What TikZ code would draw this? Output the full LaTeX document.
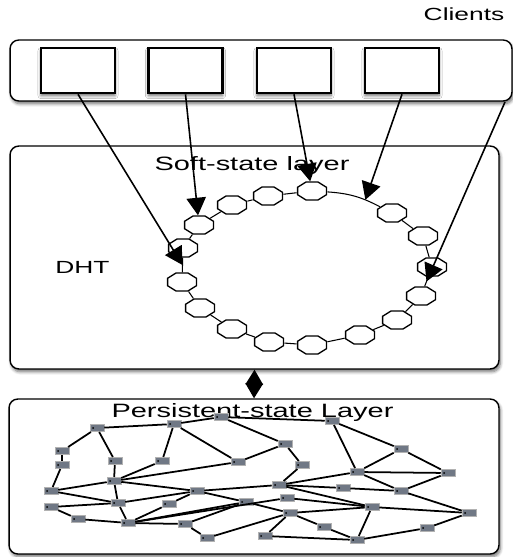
\documentclass[tikz,border=0pt]{standalone}
\usepackage{fontspec}
\newfontfamily\lblfont[FakeStretch=1.5]{Liberation Sans}
\usetikzlibrary{shapes.geometric,arrows.meta,shadows.blur}
\definecolor{pgray}{RGB}{112,120,133}
\tikzset{
  layerbox/.style={draw=black, line width=0.8pt, rounded corners=5pt, fill=white,
    blur shadow={shadow xshift=0.8pt, shadow yshift=-1.6pt, shadow blur steps=6, shadow opacity=55}},
  clientbox/.style={draw=black, line width=1.5pt, fill=white, minimum width=1.48cm, minimum height=0.9cm,
    blur shadow={shadow xshift=0pt, shadow yshift=-1.5pt, shadow blur steps=6, shadow opacity=60}},
  octnode/.style={regular polygon, regular polygon sides=8, minimum size=0.39cm, inner sep=0pt,
    draw=black, line width=0.75pt, fill=white, xscale=1.6},
  pnode/.style={rectangle, fill=pgray, draw=gray!60, line width=0.3pt, minimum width=0.28cm,
    minimum height=0.15cm, inner sep=0pt,
    path picture={\fill[black] ([xshift=1.8pt]path picture bounding box.west) circle (0.55pt);}},
  ringline/.style={line width=0.6pt},
  arr/.style={-{Triangle[length=10pt,width=11pt]}, line width=0.9pt},
  lbl/.style={font=\lblfont\fontsize{#1}{#1}\selectfont, anchor=base, inner sep=0pt}
}
\begin{document}
\begin{tikzpicture}[x=0.02cm,y=-0.02cm]
    \useasboundingbox (0,0) rectangle (513,557);
    % the three layers
    \node[layerbox, minimum width=10.04cm, minimum height=1.22cm] (clients) at (261,70.5) {};
    \node[layerbox, minimum width=9.78cm, minimum height=4.46cm] (soft) at (254.5,257.5) {};
    \node[layerbox, minimum width=9.8cm, minimum height=3.1cm] (pers) at (254,476.5) {};
    \node[lbl=10] (cltitle) at (464,21) {Clients};
    \node[lbl=11] (softtitle) at (252,171) {Soft-state layer};
    \node[lbl=11] (perstitle) at (252.5,417) {Persistent-state Layer};
    \node[lbl=10] (dht) at (82.5,273) {DHT};
    % client boxes
    \foreach \i/\x in {1/78,2/185.5,3/294,4/402}
        \node[clientbox] (c\i) at (\x,70.5) {};
    \coordinate (cfive) at (505,102);
    % DHT ring
    \foreach \i/\x/\y in {1/312/191, 2/268/196, 3/232/205, 4/199/225, 5/183/248, 6/182/282,
        7/200/308, 8/232/329, 9/269/342, 10/312/345, 11/360/335, 12/397/320,
        13/421/296, 14/432/267, 15/423/236, 16/392/213}
        \node[octnode] (r\i) at (\x,\y) {};
    \foreach \a/\b in {1/2,2/3,3/4,4/5,6/7,7/8,8/9,9/10,10/11,11/12,12/13,14/15,15/16}
        \draw[ringline] (r\a) -- (r\b);
    \draw[ringline] (r5) -- coordinate (tone) (r6);
    \draw[ringline] (r13) -- coordinate (tfive) (r14);
    \draw[ringline] (r1) to[bend left=12] coordinate[pos=0.72] (tfour) (r16);
    % requests from the clients
    \draw[arr] (c1.south) -- (tone);
    \draw[arr] (c2.south) -- (r4);
    \draw[arr] (c3.south) -- (r1);
    \draw[arr] (c4.south) -- (tfour);
    \draw[arr] (cfive) -- (tfive);
    \draw[{Triangle[length=8.5pt,width=10pt]}-{Triangle[length=8.5pt,width=10pt]}, line width=0.8pt]
        (soft.south) -- (pers.north);
    % persistent store
    \foreach \i/\x/\y in {1/97/428, 2/174/424, 3/221/417, 4/332/421, 5/285/444, 6/401/449,
        7/62/451, 8/62/465, 9/115/461, 10/162/461, 11/238/462, 12/302/465, 13/357/472,
        14/448/473, 15/114/481, 16/51/491, 17/197/491, 18/279/485, 19/343/488, 20/401/491,
        21/287/498, 22/51/507, 23/118/503, 24/169/504, 25/246/502, 26/372/507, 27/290/513,
        28/469/513, 29/78/519, 30/128/523, 31/185/524, 32/324/527, 33/427/528, 34/207/538,
        35/265/536, 36/357/540}
        \node[pnode] (n\i) at (\x,\y) {};
    \foreach \a/\b in {1/7,7/8,8/16,1/2,1/9,2/3,2/10,2/11,3/5,3/4,4/13,4/6,6/13,6/14,13/14,
        13/20,14/20,20/28,5/12,11/5,15/11,15/17,15/9,15/10,15/16,15/23,16/23,22/23,22/29,
        29/30,23/30,30/24,24/17,23/17,30/31,30/25,30/21,31/25,17/18,17/25,25/27,18/12,18/13,
        18/19,19/20,18/26,21/26,27/26,26/28,27/32,27/35,27/34,32/36,26/36,35/36,36/33,33/28,31/34}
        \draw[line width=1pt] (n\a) -- (n\b);
\end{tikzpicture}
\end{document}
